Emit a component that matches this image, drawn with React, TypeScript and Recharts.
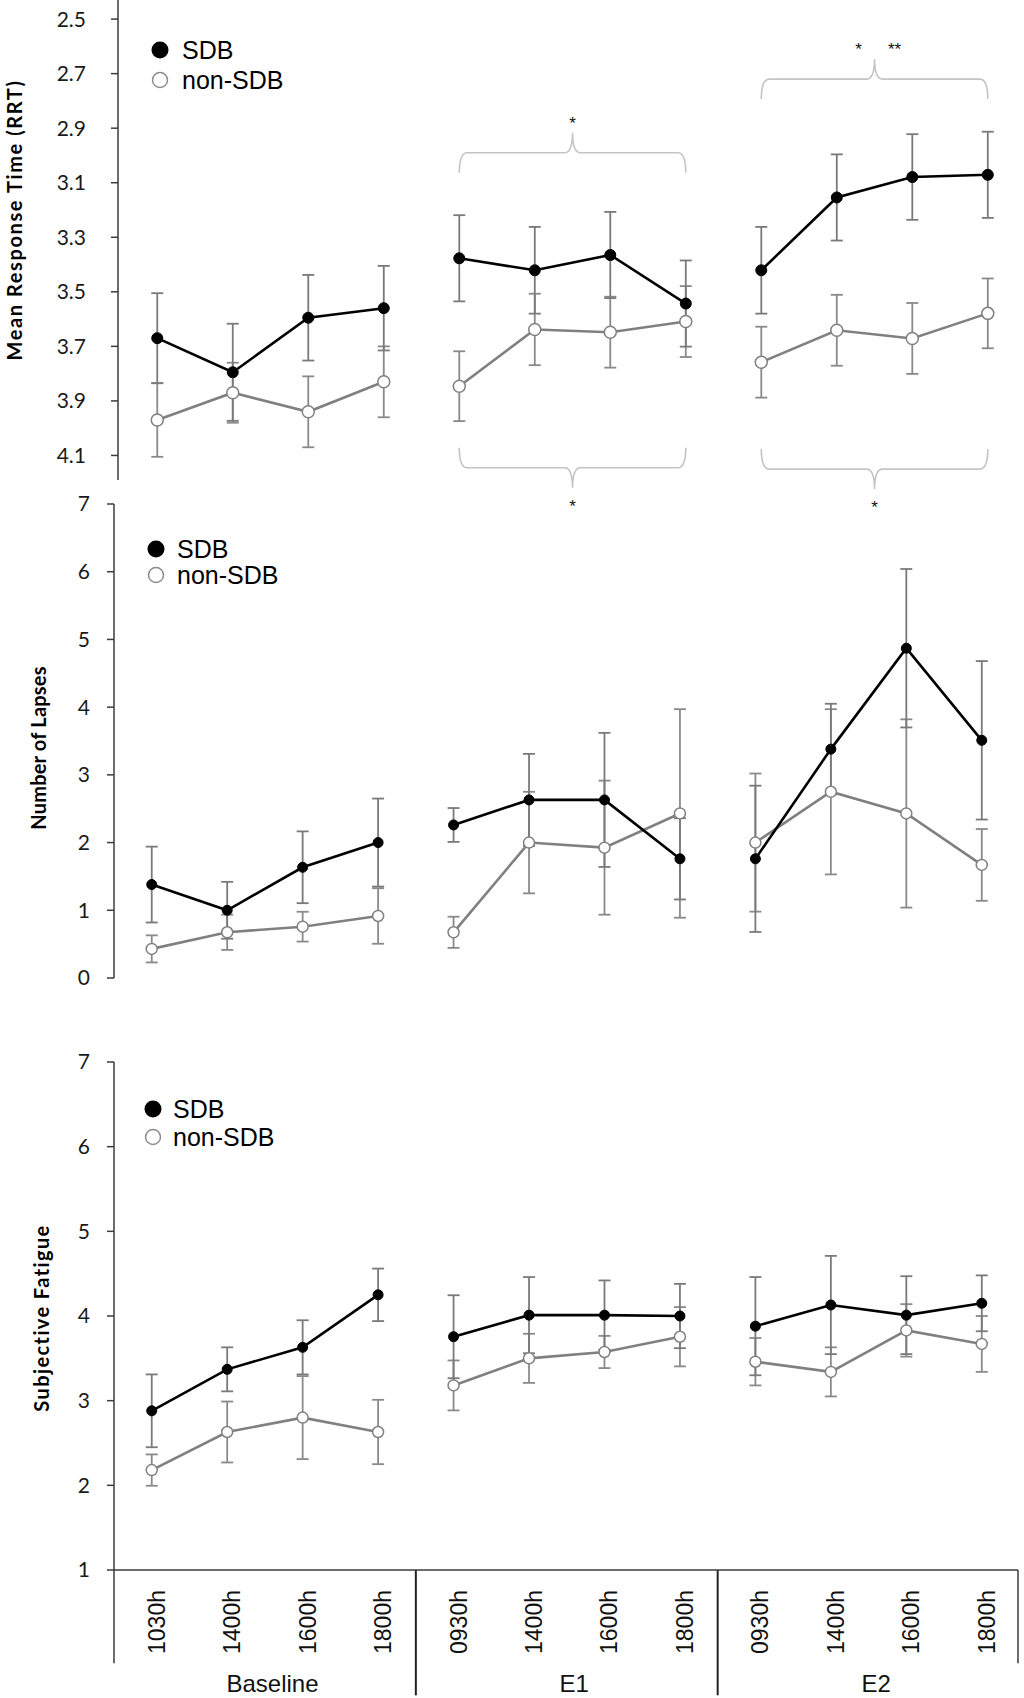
import React from 'react';
import { LineChart, Line, XAxis, YAxis, ErrorBar, ReferenceLine, ReferenceDot, Legend } from 'recharts';

const categories = ['1030h', '1400h', '1600h', '1800h', '0930h', '1400h', '1600h', '1800h', '0930h', '1400h', '1600h', '1800h'];
const groupLabels = ['Baseline', 'E1', 'E2'];
const seriesNames = ['SDB', 'non-SDB'];

// mean response time (RRT), drawn on a reversed axis
const rrtSdb = [3.67, 3.795, 3.595, 3.56, 3.377, 3.421, 3.365, 3.543, 3.421, 3.154, 3.079, 3.071];
const rrtSdbErr = [0.165, 0.178, 0.157, 0.155, 0.158, 0.159, 0.158, 0.158, 0.159, 0.158, 0.157, 0.158];
const rrtNon = [3.97, 3.87, 3.94, 3.83, 3.846, 3.638, 3.648, 3.609, 3.758, 3.641, 3.671, 3.579];
const rrtNonErr = [0.135, 0.11, 0.13, 0.13, 0.128, 0.131, 0.13, 0.13, 0.13, 0.13, 0.13, 0.128];
const rrtTicks = [2.5, 2.7, 2.9, 3.1, 3.3, 3.5, 3.7, 3.9, 4.1];

// number of lapses
const lapsesSdb = [1.38, 1.0, 1.635, 2.0, 2.26, 2.63, 2.63, 1.76, 1.76, 3.38, 4.87, 3.51];
const lapsesSdbErr = [0.56, 0.42, 0.53, 0.65, 0.25, 0.68, 0.99, 0.6, 1.08, 0.67, 1.17, 1.17];
const lapsesNon = [0.43, 0.675, 0.758, 0.916, 0.675, 2.0, 1.925, 2.43, 2.0, 2.75, 2.43, 1.67];
const lapsesNonErr = [0.2, 0.26, 0.22, 0.41, 0.23, 0.75, 0.99, 1.54, 1.02, 1.22, 1.39, 0.53];
const lapsesTicks = [0, 1, 2, 3, 4, 5, 6, 7];

// subjective fatigue
const fatigueSdb = [2.88, 3.37, 3.63, 4.25, 3.755, 4.01, 4.01, 4.0, 3.88, 4.13, 4.01, 4.15];
const fatigueSdbErr = [0.43, 0.26, 0.32, 0.31, 0.49, 0.45, 0.41, 0.38, 0.58, 0.58, 0.46, 0.33];
const fatigueNon = [2.18, 2.63, 2.8, 2.63, 3.18, 3.5, 3.575, 3.755, 3.46, 3.34, 3.83, 3.67];
const fatigueNonErr = [0.185, 0.36, 0.49, 0.38, 0.295, 0.29, 0.19, 0.35, 0.28, 0.29, 0.31, 0.33];
const fatigueTicks = [1, 2, 3, 4, 5, 6, 7];

// significance braces on the RRT panel (x = category index, y = RRT value)
const rrtBraces = [
  { from: 4, to: 7, y: 2.99, side: 'top', stars: ['*'] },
  { from: 8, to: 11, y: 2.72, side: 'top', stars: ['*', '**'] },
  { from: 4, to: 7, y: 4.145, side: 'bottom', stars: ['*'] },
  { from: 8, to: 11, y: 4.15, side: 'bottom', stars: ['*'] },
];

const SANS = '"Liberation Sans", Arial, sans-serif';
const GREY = '#808080';
const AXIS = '#3c3c3c';
const groups = [0, 1, 2];

function buildRows(sdb: number[], sdbErr: number[], non: number[], nonErr: number[]) {
  return categories.map((label, i) => {
    const g = Math.floor(i / 4);
    return {
      x: i,
      label,
      [`sdb${g}`]: sdb[i],
      [`sdbErr${g}`]: sdbErr[i],
      [`non${g}`]: non[i],
      [`nonErr${g}`]: nonErr[i],
    };
  });
}

function AxisTitle({ viewBox, text, titleX, titleShift, spacing }: any) {
  if (!viewBox) return null;
  const cy = viewBox.y + viewBox.height / 2 + titleShift;
  return (
    <text x={titleX} y={cy} transform={`rotate(-90 ${titleX} ${cy})`} textAnchor="middle"
      fontFamily="Lato, 'Open Sans', sans-serif" fontWeight={700} fontSize={20} letterSpacing={spacing} fill="#000">
      {text}
    </text>
  );
}

function TimeTick({ x, y, payload }: any) {
  return (
    <text transform={`translate(${x},${y}) rotate(-90)`} dy={13} textAnchor="end"
      fontFamily={SANS} fontSize={23} fill="#111">
      {categories[payload.value]}
    </text>
  );
}

function LegendBox({ rowH, gap }: { rowH: number; gap: number }) {
  return (
    <div style={{ fontFamily: SANS, fontSize: 25, color: '#000', lineHeight: 1 }}>
      {seriesNames.map((name, i) => (
        <div key={name} style={{ display: 'flex', alignItems: 'center', height: rowH }}>
          <svg width={18} height={18} style={{ marginRight: gap }}>
            {i === 0
              ? <circle cx={9} cy={9} r={8.5} fill="#000" />
              : <circle cx={9} cy={9} r={7.5} fill="#fff" stroke="#8c8c8c" strokeWidth={1.5} />}
          </svg>
          <span>{name}</span>
        </div>
      ))}
    </div>
  );
}

function braceShape(side: string, stars: string[]) {
  return (p: any) => {
    const { x1, x2, y1: y } = p;
    const s = side === 'top' ? 1 : -1;
    const arm = 20;
    const r = 8;
    const xm = (x1 + x2) / 2;
    const d = `M${x1},${y + s * arm} Q${x1},${y} ${x1 + r},${y} L${xm - r},${y} Q${xm},${y} ${xm},${y - s * arm}`
      + ` Q${xm},${y} ${xm + r},${y} L${x2 - r},${y} Q${x2},${y} ${x2},${y + s * arm}`;
    const offs = stars.length === 1 ? [0] : [-16, 20];
    const ty = side === 'top' ? y - 24 : y + 44;
    return (
      <g>
        <path d={d} fill="none" stroke="#c4c4c4" strokeWidth={1.6} />
        {stars.map((st, i) => (
          <text key={i} x={xm + offs[i]} y={ty} textAnchor="middle" fontFamily={SANS} fontSize={17} fill="#111">{st}</text>
        ))}
      </g>
    );
  };
}

function seriesLines(dotR: number) {
  const out: React.ReactNode[] = [];
  groups.forEach((g) => {
    out.push(
      <Line key={`non${g}`} dataKey={`non${g}`} stroke={GREY} strokeWidth={2.6} isAnimationActive={false}
        dot={{ r: dotR + 0.5, fill: '#fff', stroke: GREY, strokeWidth: 1.5 }} activeDot={false} connectNulls={false}>
        <ErrorBar dataKey={`nonErr${g}`} width={6} stroke="#8a8a8a" strokeWidth={1.8} direction="y" isAnimationActive={false} />
      </Line>
    );
  });
  groups.forEach((g) => {
    out.push(
      <Line key={`sdb${g}`} dataKey={`sdb${g}`} stroke="#000" strokeWidth={2.6} isAnimationActive={false}
        dot={{ r: dotR, fill: '#000', stroke: '#000', strokeWidth: 1 }} activeDot={false} connectNulls={false}>
        <ErrorBar dataKey={`sdbErr${g}`} width={6} stroke="#7a7a7a" strokeWidth={1.8} direction="y" isAnimationActive={false} />
      </Line>
    );
  });
  return out;
}

function yAxisProps(width: number, tickMargin: number) {
  return {
    width,
    type: 'number' as const,
    axisLine: { stroke: AXIS, strokeWidth: 1.5 },
    tickLine: { stroke: AXIS, strokeWidth: 1.5 },
    tickSize: 7,
    tickMargin,
    tick: { fill: '#1a1a1a', fontSize: 21, fontFamily: 'Lato, sans-serif' },
    interval: 0 as const,
  };
}

function RrtPanel() {
  const rows = buildRows(rrtSdb, rrtSdbErr, rrtNon, rrtNonErr);
  return (
    <div style={{ position: 'absolute', left: 0, top: 0 }}>
      <LineChart width={1024} height={520} data={rows} margin={{ top: 0, right: 6, bottom: 40, left: 0 }}>
        <XAxis type="number" dataKey="x" domain={[-0.52, 11.4]} hide />
        <YAxis {...yAxisProps(118, 25)} domain={[2.43, 4.19]} ticks={rrtTicks} reversed
          tickFormatter={(v: number) => v.toFixed(1)}
          label={<AxisTitle text="Mean Response Time (RRT)" titleX={22} titleShift={-20} spacing={1.6} />} />
        <Legend layout="horizontal" verticalAlign="middle" align="center"
          wrapperStyle={{ top: 35, left: 151, width: 'auto', height: 'auto' }}
          content={() => <LegendBox rowH={30} gap={13} />} />
        {rrtBraces.map((b, i) => (
          <ReferenceLine key={`brace${i}`} segment={[{ x: b.from, y: b.y }, { x: b.to, y: b.y }]}
            ifOverflow="visible" shape={braceShape(b.side, b.stars)} />
        ))}
        {seriesLines(5.5)}
      </LineChart>
    </div>
  );
}

function LapsesPanel() {
  const rows = buildRows(lapsesSdb, lapsesSdbErr, lapsesNon, lapsesNonErr);
  return (
    <div style={{ position: 'absolute', left: 0, top: 480 }}>
      <LineChart width={1024} height={520} data={rows} margin={{ top: 24, right: 6, bottom: 22, left: 0 }}>
        <XAxis type="number" dataKey="x" domain={[-0.5, 11.48]} hide />
        <YAxis {...yAxisProps(114, 17)} domain={[0, 7]} ticks={lapsesTicks}
          label={<AxisTitle text="Number of Lapses" titleX={46} titleShift={7} spacing={0.2} />} />
        <Legend layout="horizontal" verticalAlign="middle" align="center"
          wrapperStyle={{ top: 56, left: 147, width: 'auto', height: 'auto' }}
          content={() => <LegendBox rowH={26} gap={12} />} />
        {seriesLines(5)}
      </LineChart>
    </div>
  );
}

function FatiguePanel() {
  const rows = buildRows(fatigueSdb, fatigueSdbErr, fatigueNon, fatigueNonErr);
  const dividers = [3.5, 7.5];
  return (
    <div style={{ position: 'absolute', left: 0, top: 1030 }}>
      <LineChart width={1024} height={668} data={rows} margin={{ top: 32, right: 6, bottom: 0, left: 0 }}>
        <XAxis type="number" dataKey="x" domain={[-0.5, 11.48]} ticks={categories.map((_, i) => i)}
          interval={0} height={128} axisLine={{ stroke: AXIS, strokeWidth: 1.5 }} tickLine={false}
          tickSize={0} tickMargin={20} tick={<TimeTick />} />
        <YAxis {...yAxisProps(114, 17)} domain={[1, 7]} ticks={fatigueTicks}
          label={<AxisTitle text="Subjective Fatigue" titleX={49} titleShift={2} spacing={1.4} />} />
        <Legend layout="horizontal" verticalAlign="middle" align="center"
          wrapperStyle={{ top: 65, left: 144, width: 'auto', height: 'auto' }}
          content={() => <LegendBox rowH={28} gap={11} />} />
        <ReferenceLine segment={[{ x: -0.5, y: 1 }, { x: -0.5, y: -0.1 }]} ifOverflow="visible" stroke={AXIS} strokeWidth={1.5} />
        <ReferenceLine segment={[{ x: 11.48, y: 1 }, { x: 11.48, y: -0.1 }]} ifOverflow="visible" stroke={AXIS} strokeWidth={1.5} />
        {dividers.map((d) => (
          <ReferenceLine key={`div${d}`} segment={[{ x: d, y: 1 }, { x: d, y: -0.48 }]} ifOverflow="visible" stroke="#222" strokeWidth={2} />
        ))}
        {groupLabels.map((g, i) => (
          <ReferenceDot key={g} x={i * 4 + 1.6} y={-0.335} r={0} fill="none" stroke="none" ifOverflow="visible"
            label={{ value: g, position: 'center', fontSize: 24, fontFamily: SANS, fill: '#111' }} />
        ))}
        {seriesLines(5)}
      </LineChart>
    </div>
  );
}

export default function App() {
  return (
    <div style={{ position: 'absolute', left: 0, top: 0, width: 1024, height: 1698, background: '#fff', fontFamily: SANS }}>
      <RrtPanel />
      <LapsesPanel />
      <FatiguePanel />
    </div>
  );
}
